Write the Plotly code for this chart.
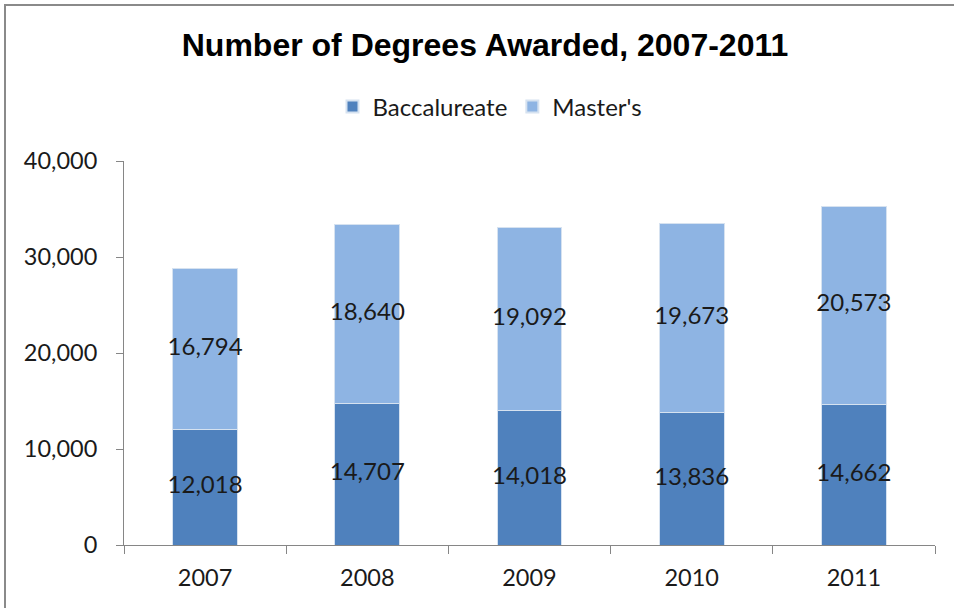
import plotly.graph_objects as go

years = ["2007", "2008", "2009", "2010", "2011"]
baccalaureate = [12018, 14707, 14018, 13836, 14662]
masters = [16794, 18640, 19092, 19673, 20573]
series_names = ["Baccalureate", "Master's"]
y_ticks = [0, 10000, 20000, 30000, 40000]
y_tick_labels = ["0", "10,000", "20,000", "30,000", "40,000"]

c_bac = "#4F81BD"
c_mas = "#8EB4E3"
FONT = "Lato, Carlito, Calibri, sans-serif"
label_font = dict(family=FONT, size=24, color="#1a1a1a")

fig = go.Figure()
fig.add_trace(go.Bar(x=years, y=baccalaureate, name=series_names[0],
                     marker=dict(color=c_bac, line=dict(color="#d6e2f0", width=1))))
fig.add_trace(go.Bar(x=years, y=masters, name=series_names[1],
                     marker=dict(color=c_mas, line=dict(color="#d6e2f0", width=1))))

# data labels centered in each segment (computed from the data)
bac_mid = [b / 2 for b in baccalaureate]
mas_mid = [b + m / 2 for b, m in zip(baccalaureate, masters)]
fig.add_trace(go.Scatter(x=years, y=bac_mid, mode="text",
                         text=[f"{v:,}" for v in baccalaureate], cliponaxis=False,
                         textfont=label_font, showlegend=False, hoverinfo="skip"))
fig.add_trace(go.Scatter(x=years, y=mas_mid, mode="text",
                         text=[f"{v:,}" for v in masters], cliponaxis=False,
                         textfont=label_font, showlegend=False, hoverinfo="skip"))

fig.update_layout(
    width=954, height=608,
    barmode="stack", bargap=0.6,
    plot_bgcolor="white", paper_bgcolor="white",
    margin=dict(l=124, r=19, t=161, b=63, autoexpand=False),
    title=dict(text="<b>Number of Degrees Awarded, 2007-2011</b>",
               font=dict(family="Liberation Sans, Arial, sans-serif", size=32, color="black"),
               x=485 / 954, xref="container", xanchor="center",
               y=1 - 45 / 608, yref="container", yanchor="middle"),
    legend=dict(orientation="h", x=(490 - 124) / 811, xref="paper", xanchor="center",
                y=(545 - 107) / 384, yref="paper", yanchor="middle",
                font=dict(family=FONT, size=24, color="#1a1a1a"),
                itemsizing="constant", traceorder="normal"),
    showlegend=True,
)
fig.update_xaxes(
    showline=True, linecolor="#868686", linewidth=1,
    ticks="outside", tickson="boundaries", ticklen=8, tickcolor="#868686",
    tickfont=dict(family=FONT, size=23.5, color="#1a1a1a"),
    ticklabelstandoff=12,
    tickangle=0, showgrid=False, zeroline=False,
)
fig.update_yaxes(
    range=[0, 40000], tickvals=y_ticks, ticktext=y_tick_labels,
    showline=True, linecolor="#868686", linewidth=1,
    ticks="outside", ticklen=7, tickcolor="#868686",
    tickfont=dict(family=FONT, size=23.5, color="#1a1a1a"),
    ticklabelstandoff=14,
    showgrid=False, zeroline=False,
)

# outer chart border (top and left visible in the reference)
fig.add_shape(type="rect", xref="paper", yref="paper",
              x0=(5 - 124) / 811, x1=1.2, y0=-0.5, y1=(545 - 5) / 384,
              line=dict(color="#8a8a8a", width=2), fillcolor="rgba(0,0,0,0)", layer="below")

fig.write_html("out.html", config={"displayModeBar": False},
               post_script="document.body.style.margin='0px';")
